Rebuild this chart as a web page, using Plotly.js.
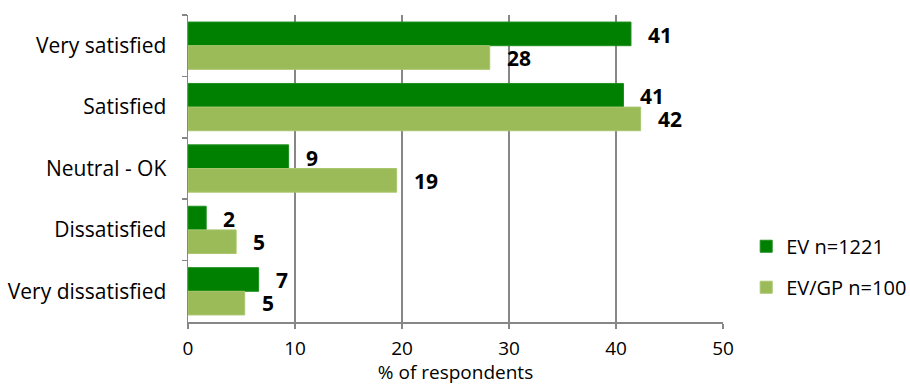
<!DOCTYPE html>
<html>
<head>
<meta charset="utf-8">
<script src="https://cdn.plot.ly/plotly-3.0.1.min.js"></script>
<style>html,body{margin:0;padding:0;background:#fff}#chart{width:910px;height:385px}</style>
</head>
<body>
<div id="chart"></div>
<script>
const categories = ["Very satisfied", "Satisfied", "Neutral - OK", "Dissatisfied", "Very dissatisfied"];
const seriesNames = ["EV n=1221", "EV/GP n=100"];
const evValues = [41.4, 40.7, 9.4, 1.7, 6.6];
const evgpValues = [28.2, 42.3, 19.5, 4.5, 5.3];
const evLabels = ["41", "41", "9", "2", "7"];
const evgpLabels = ["28", "42", "19", "5", "5"];
const xTicks = [0, 10, 20, 30, 40, 50];

const FONT = "'Open Sans', sans-serif";
const GRID = "#878787";

const traces = [
  {type: "bar", orientation: "h", name: seriesNames[0], y: categories, x: evValues,
   marker: {color: "#008000", line: {color: "#1f8f1f", width: 1}}, legendgroup: "a", hoverinfo: "x"},
  {type: "bar", orientation: "h", name: seriesNames[1], y: categories, x: evgpValues,
   marker: {color: "#9bbb59", line: {color: "#a9c66e", width: 1}}, legendgroup: "b", hoverinfo: "x"}
];

const annotations = [];
categories.forEach((c, i) => {
  annotations.push({x: evValues[i], y: c, text: "<b>" + evLabels[i] + "</b>", xref: "x", yref: "y",
    showarrow: false, xanchor: "left", xshift: 15, yshift: 11, font: {family: FONT, size: 21, color: "#000"}});
  annotations.push({x: evgpValues[i], y: c, text: "<b>" + evgpLabels[i] + "</b>", xref: "x", yref: "y",
    showarrow: false, xanchor: "left", xshift: 15, yshift: -12, font: {family: FONT, size: 21, color: "#000"}});
});

const layout = {
  width: 910, height: 385,
  margin: {l: 188, r: 187, t: 15, b: 63},
  paper_bgcolor: "#fff", plot_bgcolor: "#fff",
  font: {family: FONT, size: 19, color: "#000"},
  barmode: "group", bargap: 0.23, bargroupgap: 0,
  xaxis: {
    range: [0, 50], tickvals: xTicks, ticktext: xTicks.map(String),
    showgrid: true, gridcolor: GRID, gridwidth: 1.5,
    showline: true, linecolor: GRID, linewidth: 1.5,
    ticks: "outside", ticklen: 5, tickcolor: GRID, tickwidth: 1.5, ticklabelstandoff: 4,
    zeroline: false, tickfont: {family: FONT, size: 19}, automargin: false,
    title: {text: "% of respondents", font: {family: FONT, size: 19}, standoff: 1}
  },
  yaxis: {
    type: "category", autorange: "reversed", categoryorder: "array", categoryarray: categories,
    showline: true, linecolor: GRID, linewidth: 1.5,
    ticks: "outside", ticklen: 5, tickcolor: GRID, tickwidth: 1.5, tickson: "boundaries",
    showgrid: false, zeroline: false, ticklabelstandoff: 16, automargin: false,
    tickfont: {family: FONT, size: 21}
  },
  showlegend: true,
  legend: {xref: "container", x: 0.82, y: 0.18, xanchor: "left", yanchor: "middle", traceorder: "grouped",
    tracegroupgap: 12, font: {family: FONT, size: 20}, bgcolor: "rgba(0,0,0,0)"},
  annotations: annotations
};

Plotly.newPlot("chart", traces, layout, {displayModeBar: false, staticPlot: true});
</script>
</body>
</html>
